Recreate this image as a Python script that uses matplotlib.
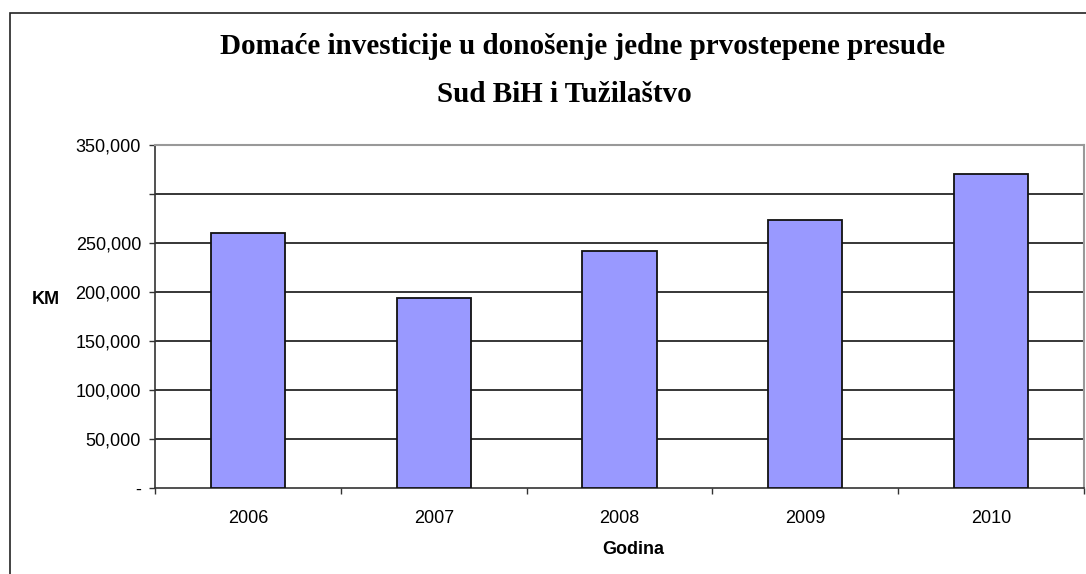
import matplotlib.pyplot as plt
from matplotlib.patches import Rectangle
from matplotlib.ticker import FixedLocator

years = ['2006', '2007', '2008', '2009', '2010']
values = [260300, 193900, 241900, 273300, 320300]
ytick_values = [0, 50000, 100000, 150000, 200000, 250000, 300000, 350000]
ytick_labels = ['-', '50,000', '100,000', '150,000', '200,000', '250,000', '', '350,000']

title1 = 'Domaće investicije u donošenje jedne prvostepene presude'
title2 = 'Sud BiH i Tužilaštvo'

W, H = 1086, 574
fig = plt.figure(figsize=(W / 100, H / 100), dpi=100)
fig.patch.set_facecolor('white')

# outer chart frame (right/bottom fall outside the image)
fig.patches.append(Rectangle((10 / W, -0.2), 1.5, 1.2 - 12.5 / H, transform=fig.transFigure,
                             fill=False, edgecolor='#222222', linewidth=1.2))

ax = fig.add_axes([155 / W, (H - 488) / H, (1084 - 155) / W, (488 - 145) / H])

x = list(range(len(years)))
ax.bar(x, values, width=0.4, color='#9999FF', edgecolor='#111111', linewidth=1.3, zorder=3)

ax.set_xlim(-0.5, len(years) - 0.5)
ax.set_ylim(0, 350000)

ax.set_yticks(ytick_values)
ax.set_yticklabels(ytick_labels, fontsize=13, family='Liberation Sans')
ax.set_xticks(x)
ax.set_xticklabels(years, fontsize=13, family='Liberation Sans')
ax.tick_params(axis='x', length=0, pad=16)
ax.tick_params(axis='y', length=4, width=1, pad=6, direction='out', color='#333333')

# category boundary ticks on the x axis
ax.xaxis.set_minor_locator(FixedLocator([i - 0.5 for i in range(len(years) + 1)]))
ax.tick_params(axis='x', which='minor', length=4, width=1, direction='out', color='#333333')

for v in ytick_values[1:-1]:
    ax.axhline(v, color='black', linewidth=1.1, zorder=1)

ax.spines['left'].set_color('#333333')
ax.spines['bottom'].set_color('#333333')
ax.spines['left'].set_linewidth(1.2)
ax.spines['bottom'].set_linewidth(1.2)
ax.spines['top'].set_color('#999999')
ax.spines['right'].set_color('#999999')
ax.spines['top'].set_linewidth(1.5)
ax.spines['right'].set_linewidth(1.5)

fig.text(583 / W, 1 - 47 / H, title1, ha='center', va='center', fontsize=21,
         fontweight='bold', family='Liberation Serif')
fig.text(564 / W, 1 - 95 / H, title2, ha='center', va='center', fontsize=21,
         fontweight='bold', family='Liberation Serif')
fig.text(46 / W, 1 - 300 / H, 'KM', ha='center', va='center', fontsize=13,
         fontweight='bold', family='Liberation Sans')
fig.text(633 / W, 1 - 549 / H, 'Godina', ha='center', va='center', fontsize=13,
         fontweight='bold', family='Liberation Sans')

fig.savefig('out.png', dpi=100)
